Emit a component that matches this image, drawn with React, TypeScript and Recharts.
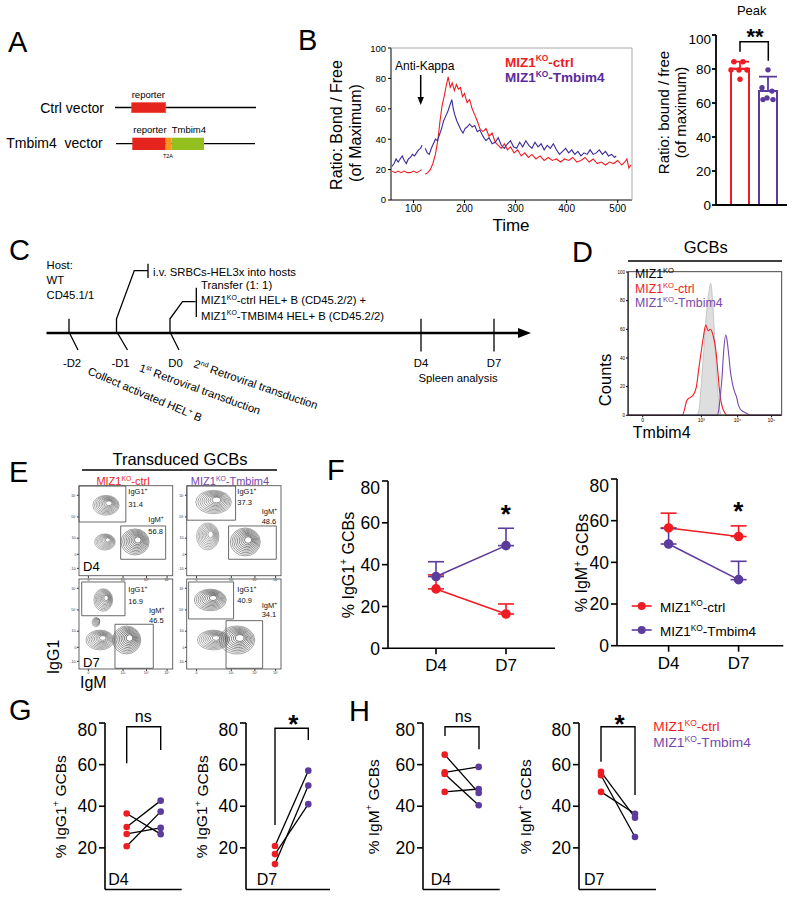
import React from 'react';
import {
  LineChart, Line, XAxis, YAxis, ComposedChart, Bar, Cell, ErrorBar, Scatter, ScatterChart, Area, ReferenceArea,
} from 'recharts';

const RED = '#ee1d23';
const PURPLE = '#5b3c9c';
const NAVY = '#3a2a9a';
const LPURPLE = '#7648ab';
const FONT = '"Liberation Sans", Arial, Helvetica, sans-serif';

// ---------- B: Ca-flux kinetics ----------
const kinCtrlTime = [58, 64, 70, 76, 82, 88, 94, 100, 106, 112, 116, 119,
  123, 128, 133, 138, 143, 148, 152, 156, 160, 164, 168, 172, 176, 180, 184, 188, 192, 196, 200, 205,
  210, 215, 220, 225, 230, 236, 242, 248, 254, 260, 266, 272, 278, 284, 290, 297, 304, 311, 318, 325,
  332, 340, 348, 356, 364, 372, 380, 388, 396, 404, 412, 420, 428, 436, 444, 452, 460, 468, 476, 484,
  492, 500, 508, 514, 518, 522, 526];
const kinCtrlRatio = [19, 18, 19, 18, 19, 18, 18, 19, 18, 19, 20, null,
  17, 18, 20, 24, 30, 40, 52, 62, 68, 75, 81, 74, 77, 72, 76, 73, 74, 68, 70, 64,
  66, 60, 56, 52, 47, 45, 47, 42, 44, 38, 36, 34, 37, 33, 35, 31, 33, 29, 31, 28,
  30, 27, 29, 26, 28, 26, 27, 25, 27, 26, 28, 25, 26, 28, 25, 27, 24, 25, 23, 25,
  24, 26, 23, 25, 27, 21, 23];
const kinTmbTime = [58, 62, 66, 70, 74, 78, 82, 86, 90, 94, 98, 102, 106, 110, 114, 117, 120,
  123, 127, 131, 135, 139, 143, 147, 151, 155, 159, 163, 167, 171, 175, 178, 181, 185, 189, 193, 197,
  201, 205, 210, 215, 220, 225, 230, 236, 242, 248, 254, 260, 266, 272, 278, 284, 290, 296, 302, 308,
  314, 320, 326, 332, 338, 344, 350, 356, 362, 368, 374, 380, 386, 392, 398, 404, 410, 416, 422, 428,
  434, 440, 446, 452, 458, 464, 470, 476, 482, 488, 494, 497];
const kinTmbRatio = [22, 24, 27, 25, 27, 29, 26, 24, 27, 28, 30, 29, 31, 33, 34, 36, null,
  34, 31, 30, 34, 37, 40, 39, 43, 47, 52, 55, 58, 62, 66, 60, 56, 52, 49, 46, 44,
  47, 48, 50, 48, 49, 45, 46, 42, 39, 41, 37, 38, 41, 36, 34, 37, 39, 35, 34, 38,
  35, 39, 36, 34, 38, 35, 37, 33, 36, 34, 37, 33, 30, 32, 34, 31, 33, 30, 32, 29,
  31, 30, 33, 30, 31, 33, 30, 32, 29, 30, 28, 29];
const timeTicks = [100, 200, 300, 400, 500];
const ratioTicks = [0, 20, 40, 60, 80, 100];

// ---------- B: peak ----------
const peakGroups = ['ctrl', 'Tmbim4'];
const peakMean = [80.1, 67.1];
const peakSD = [4.2, 8.4];
const peakCtrlDots = [79.4, 84.3, 79.4, 84.3, 79.4, 74];
const peakTmbDots = [79.5, 69, 67, 62, 62, 63];

// ---------- D: histogram ----------
const histTicks = [96, 478, 715, 935];
const histTickLabels = ['0', '10³', '10⁴', '10⁵'];
const countTicks = [0, 20, 40, 60, 80, 100];
const grayCh = [0, 440, 446, 463, 478, 494, 511, 526, 539, 550, 561, 572, 585, 598, 611, 620, 1000];
const grayCount = [0, 0, 0, 4, 22, 45, 70, 85, 92, 82, 62, 40, 18, 4, 0, 0, 0];
const ctrlCh = [0, 355, 368, 382, 398, 414, 430, 446, 462, 478, 492, 507, 522, 537, 554, 566, 576, 586, 596, 606, 617, 630, 645, 1000];
const ctrlCount = [0, 0, 4, 10, 12, 13, 15, 20, 33, 45, 55, 63, 59, 60, 56, 50, 42, 30, 18, 10, 5, 2, 0, 0];
const tmbCh = [0, 580, 592, 603, 612, 624, 637, 645, 652, 660, 667, 676, 685, 696, 707, 718, 728, 745, 761, 780, 795, 1000];
const tmbCount = [0, 0, 4, 15, 25, 45, 56, 53, 47, 39, 31, 25, 20, 16, 13, 8, 5, 3, 2, 1, 0, 0];

// ---------- E: flow contour plots (x, y, spreadX, spreadY, density) ----------
const eXTicks = [10, 47, 72, 94];
const eXLabels = ['0', '10³', '10⁴', '10⁵'];
const eYTicks = [8.5, 24.1, 42, 65.6, 89.7];
const eYLabels = ['-10³', '0', '10³', '10⁴', '10⁵'];
const eD4Ctrl = [[28.8, 78.6, 14, 11, 0.55], [27.7, 37.8, 11, 9, 0.3], [59.8, 37.8, 15, 14.5, 0.95]];
const eD4Tmb = [[28.2, 82.2, 19, 13, 0.65], [22, 44, 12, 15, 0.3], [61.8, 37.8, 16, 15.5, 0.95]];
const eD7Ctrl = [[25.9, 76.7, 10, 12.5, 0.5], [22.4, 32.2, 15, 11, 0.55], [50.9, 32.2, 15, 15.5, 1], [18, 52, 4, 5, 0.2]];
const eD7Tmb = [[24.7, 76.7, 17, 12, 0.85], [27.9, 32.2, 17, 11, 0.5], [53, 32.2, 19, 15.5, 0.95]];
// gates: [x1, x2, y1, y2]
const gD4Ctrl = [[0, 50, 60, 100], [44.5, 92.5, 18.6, 55.6]];
const gD4Tmb = [[0, 51.5, 62, 100], [44.1, 94.7, 18.6, 55.6]];
const gD7Ctrl = [[2.9, 49.1, 59.2, 96.7], [38.4, 79.3, 0.8, 49.7]];
const gD7Tmb = [[1.7, 49.4, 55.6, 96.7], [41.4, 80.2, 0.8, 53.7]];
const pctD4Ctrl = ['31.4', '56.8'];
const pctD4Tmb = ['37.3', '48.6'];
const pctD7Ctrl = ['16.9', '46.5'];
const pctD7Tmb = ['40.9', '34.1'];

// ---------- F ----------
const days = ['D4', 'D7'];
const igg1Ctrl = [28.4, 16.4];
const igg1CtrlSD = [6.7, 4.8];
const igg1Tmb = [34.3, 49.1];
const igg1TmbSD = [7.1, 8.3];
const igmCtrl = [56.5, 52.4];
const igmCtrlSD = [7.1, 5.1];
const igmTmb = [48.8, 31.7];
const igmTmbSD = [7.5, 8.8];
const pctTicks = [0, 20, 40, 60, 80];

// ---------- G / H paired ----------
const pairGroups = ['ctrl', 'Tmbim4'];
const gD4C = [36.5, 30.0, 26.7, 20.8];
const gD4T = [26.6, 42.7, 29.6, 37.4];
const gD7C = [20.9, 17.0, 12.2];
const gD7T = [57.1, 41.0, 50.0];
const hD4C = [64.8, 56.3, 55.5, 46.9];
const hD4T = [46.4, 58.9, 40.5, 48.3];
const hD7C = [56.5, 54.9, 46.9];
const hD7T = [34.5, 25.2, 36.4];

// ---------- helpers ----------
function frame(x0: number, y0: number, x1: number, y1: number, yw: number, xh: number) {
  const p = 4;
  return {
    style: { position: 'absolute', left: x0 - yw - p, top: y0 - p } as React.CSSProperties,
    width: x1 - x0 + yw + 2 * p,
    height: y1 - y0 + xh + 2 * p,
    margin: { top: p, right: p, bottom: p, left: p },
  };
}

const JR = [-9, -6, -1, 3, 7, 0];
const JP = [0, -6, 4, -5, 5, -1];
function jitterDot(color: string, offs: number[]) {
  return (p: any) => (p.cx == null ? <g /> :
    <circle cx={p.cx + offs[p.payload.k % offs.length]} cy={p.cy} r={2.7} fill={color} />);
}

const E_PX = 0.937;
const E_PY = 0.9;
function contourShape(props: any) {
  const { cx, cy, payload } = props;
  if (cx == null || cy == null) return <g />;
  const rx = payload.sx * E_PX;
  const ry = payload.sy * E_PY;
  const n = 9;
  const els: any[] = [];
  for (let i = 0; i < n; i++) {
    const f = 1 - i * 0.095;
    const t = i / (n - 1);
    const shade = Math.max(25, Math.round(150 - payload.d * 55 - payload.d * 75 * t));
    els.push(
      <ellipse key={i} cx={cx + i * 0.35} cy={cy - i * 0.25} rx={rx * f} ry={ry * f}
        fill="none" stroke={`rgb(${shade},${shade},${shade})`} strokeWidth={0.6} />,
    );
  }
  return <g>{els}</g>;
}

function pairDot(p: any) {
  if (p.cx == null) return <g key={`n${p.index}`} />;
  return <circle key={`d${p.index}`} cx={p.cx} cy={p.cy} r={3.3}
    fill={p.payload.g === 'ctrl' ? RED : PURPLE} stroke="none" />;
}

function Miz({ fs, suffix }: { fs: number; suffix: string }) {
  return (
    <>
      MIZ1<tspan fontSize={fs * 0.62} dy={-fs * 0.38}>KO</tspan><tspan dy={fs * 0.38}>{suffix}</tspan>
    </>
  );
}

function Rot({ x, y, fs, children, fill = '#000' }: any) {
  return (
    <text transform={`translate(${x},${y}) rotate(-90)`} textAnchor="middle" dominantBaseline="central"
      fontSize={fs} fill={fill}>{children}</text>
  );
}

const axisStyle = { stroke: '#000', strokeWidth: 1.6 };

function FlowPlot({ x0, y0, x1, y1, clusters, gates }: any) {
  const f = frame(x0, y0, x1, y1, 10, 8);
  const data = clusters.map((c: number[]) => ({ x: c[0], y: c[1], sx: c[2], sy: c[3], d: c[4] }));
  return (
    <div style={f.style}>
      <ScatterChart width={f.width} height={f.height} margin={f.margin}>
        <XAxis type="number" dataKey="x" domain={[0, 100]} ticks={eXTicks}
          tickFormatter={(v: any, i: number) => eXLabels[i]} axisLine={false}
          tick={{ fontSize: 3.5, fill: '#333' }} tickSize={2} tickMargin={0.5} height={8} stroke="#333" />
        <YAxis type="number" dataKey="y" domain={[0, 100]} ticks={eYTicks}
          tickFormatter={(v: any, i: number) => eYLabels[i]} axisLine={false}
          tick={{ fontSize: 3.5, fill: '#333' }} tickSize={2} tickMargin={0.5} width={10} stroke="#333" />
        <Scatter data={data} shape={contourShape} isAnimationActive={false} />
        {gates.map((g: number[], i: number) => (
          <ReferenceArea key={i} x1={g[0]} x2={g[1]} y1={g[2]} y2={g[3]} fill="none" fillOpacity={0}
            stroke="#444" strokeWidth={0.8} ifOverflow="visible" />
        ))}
      </ScatterChart>
    </div>
  );
}

function TimeChart({ x0, y0, x1, y1, padL, padR, ctrl, ctrlSD, tmb, tmbSD }: any) {
  const f = frame(x0, y0, x1, y1, 36, 30);
  const rows = days.map((d, i) => ({ day: d, r: ctrl[i], rE: [0, ctrlSD[i]], p: tmb[i], pE: [0, tmbSD[i]] }));
  return (
    <div style={f.style}>
      <LineChart width={f.width} height={f.height} margin={f.margin} data={rows}>
        <XAxis dataKey="day" type="category" scale="point" padding={{ left: padL, right: padR }}
          tick={{ fontSize: 17, fill: '#000' }} tickSize={6} tickMargin={5} height={30}
          axisLine={axisStyle} tickLine={axisStyle} />
        <YAxis type="number" domain={[0, 80]} ticks={pctTicks} width={36}
          tick={{ fontSize: 17.5, fill: '#000' }} tickSize={6} tickMargin={2}
          axisLine={axisStyle} tickLine={axisStyle} />
        <Line dataKey="r" stroke={RED} strokeWidth={1.6} dot={{ r: 4, fill: RED, stroke: RED }} isAnimationActive={false}>
          <ErrorBar dataKey="rE" width={8} stroke={RED} strokeWidth={1.6} direction="y" />
        </Line>
        <Line dataKey="p" stroke={PURPLE} strokeWidth={1.6} dot={{ r: 4, fill: PURPLE, stroke: PURPLE }} isAnimationActive={false}>
          <ErrorBar dataKey="pE" width={8} stroke={PURPLE} strokeWidth={1.6} direction="y" />
        </Line>
      </LineChart>
    </div>
  );
}

function PairChart({ x0, x1, ctrl, tmb, padL, padR }: any) {
  const f = frame(x0, 723, x1, 889.5, 36, 4);
  const rows = pairGroups.map((g, gi) => {
    const src = gi === 0 ? ctrl : tmb;
    const o: any = { g: gi === 0 ? 'ctrl' : 'Tmbim4' };
    src.forEach((v: number, i: number) => { o[`p${i}`] = v; });
    return o;
  });
  return (
    <div style={f.style}>
      <LineChart width={f.width} height={f.height} margin={f.margin} data={rows}>
        <XAxis dataKey="g" type="category" scale="point" padding={{ left: padL, right: padR }}
          tick={false} tickLine={false} height={4} axisLine={axisStyle} />
        <YAxis type="number" domain={[0, 80]} ticks={pctTicks} width={36}
          tick={{ fontSize: 17.5, fill: '#000' }} tickSize={6} tickMargin={2}
          axisLine={axisStyle} tickLine={axisStyle} />
        {ctrl.map((_: number, i: number) => (
          <Line key={i} dataKey={`p${i}`} stroke="#000" strokeWidth={1.3} dot={pairDot}
            activeDot={false} isAnimationActive={false} />
        ))}
      </LineChart>
    </div>
  );
}

export default function App() {
  const kinCtrl = kinCtrlTime.map((t, i) => ({ t, v: kinCtrlRatio[i] }));
  const kinTmb = kinTmbTime.map((t, i) => ({ t, v: kinTmbRatio[i] }));
  const fB = frame(391, 48, 632, 200, 28, 22);

  const peakRows = peakGroups.map((g, i) => ({
    g, m: peakMean[i],
    eR: i === 0 ? [0, peakSD[i]] : undefined,
    eP: i === 1 ? [0, peakSD[i]] : undefined,
  }));
  const peakCtrlPts = peakCtrlDots.map((v, k) => ({ g: peakGroups[0], v, k }));
  const peakTmbPts = peakTmbDots.map((v, k) => ({ g: peakGroups[1], v, k }));
  const fP = frame(716, 35, 787, 205, 32, 4);

  const grayData = grayCh.map((ch, i) => ({ ch, c: grayCount[i] }));
  const ctrlData = ctrlCh.map((ch, i) => ({ ch, c: ctrlCount[i] }));
  const tmbData = tmbCh.map((ch, i) => ({ ch, c: tmbCount[i] }));
  const fD = frame(628.3, 271.7, 781.7, 415, 14, 10);

  const gateTxt = (x: number, y1: number, y2: number, yM1: number, yM2: number, xm: number, pct: string[]) => (
    <g fontSize={7.5} fill="#111">
      <text x={x} y={y1}>IgG1<tspan fontSize={5} dy={-3}>+</tspan></text>
      <text x={x} y={y2}>{pct[0]}</text>
      <text x={xm} y={yM1}>IgM<tspan fontSize={5} dy={-3}>+</tspan></text>
      <text x={xm} y={yM2}>{pct[1]}</text>
    </g>
  );

  return (
    <div style={{ position: 'absolute', left: 0, top: 0, width: 800, height: 901, background: '#fff', fontFamily: FONT, overflow: 'hidden' }}>
      {/* B kinetics */}
      <div style={fB.style}>
        <LineChart width={fB.width} height={fB.height} margin={fB.margin}>
          <XAxis type="number" dataKey="t" domain={[56, 528]} ticks={timeTicks} allowDataOverflow
            tick={{ fontSize: 10, fill: '#000' }} tickSize={3} tickMargin={2} height={22} stroke="#000" />
          <YAxis type="number" domain={[0, 100]} ticks={ratioTicks} width={28}
            tick={{ fontSize: 9.5, fill: '#000' }} tickSize={3} tickMargin={2} stroke="#000" />
          <Line data={kinCtrl} dataKey="v" type="linear" stroke={RED} strokeWidth={1.1} dot={false} activeDot={false} isAnimationActive={false} />
          <Line data={kinTmb} dataKey="v" type="linear" stroke={NAVY} strokeWidth={1.1} dot={false} activeDot={false} isAnimationActive={false} />
        </LineChart>
      </div>

      {/* B peak bars */}
      <div style={fP.style}>
        <ComposedChart width={fP.width} height={fP.height} margin={fP.margin} data={peakRows}>
          <XAxis dataKey="g" type="category" allowDuplicatedCategory={false} padding={{ left: 10, right: 5 }}
            tick={false} tickLine={false} height={4} axisLine={{ stroke: '#000', strokeWidth: 1.8 }} />
          <YAxis type="number" domain={[0, 100]} ticks={ratioTicks} width={32}
            tick={{ fontSize: 13.5, fill: '#000' }} tickSize={4} tickMargin={1}
            axisLine={{ stroke: '#000', strokeWidth: 1.8 }} tickLine={{ stroke: '#000', strokeWidth: 1.8 }} />
          <Bar dataKey="m" barSize={18} strokeWidth={2} fill="#fff" isAnimationActive={false}>
            {peakRows.map((r, i) => <Cell key={i} fill="#fff" stroke={i === 0 ? RED : PURPLE} />)}
            <ErrorBar dataKey="eR" width={9} stroke={RED} strokeWidth={1.8} direction="y" />
            <ErrorBar dataKey="eP" width={9} stroke={PURPLE} strokeWidth={1.8} direction="y" />
          </Bar>
          <Scatter data={peakCtrlPts} dataKey="v" shape={jitterDot(RED, JR)} isAnimationActive={false} />
          <Scatter data={peakTmbPts} dataKey="v" shape={jitterDot(PURPLE, JP)} isAnimationActive={false} />
        </ComposedChart>
      </div>

      {/* D histogram */}
      <div style={fD.style}>
        <ComposedChart width={fD.width} height={fD.height} margin={fD.margin}>
          <XAxis type="number" dataKey="ch" domain={[0, 1000]} ticks={histTicks}
            tickFormatter={(v: any, i: number) => histTickLabels[i]}
            tick={{ fontSize: 5, fill: '#000' }} tickSize={2} tickMargin={1} height={10} stroke="#000" />
          <YAxis type="number" domain={[0, 100]} ticks={countTicks}
            tick={{ fontSize: 4.5, fill: '#000' }} tickSize={2} tickMargin={1} width={14} stroke="#000" />
          <Area data={grayData} dataKey="c" type="monotone" fill="#dedede" fillOpacity={1} stroke="#c6c6c6" strokeWidth={1} isAnimationActive={false} />
          <Line data={ctrlData} dataKey="c" type="monotone" stroke={RED} strokeWidth={1.1} dot={false} activeDot={false} isAnimationActive={false} />
          <Line data={tmbData} dataKey="c" type="monotone" stroke={LPURPLE} strokeWidth={1.1} dot={false} activeDot={false} isAnimationActive={false} />
        </ComposedChart>
      </div>

      {/* E flow plots */}
      <FlowPlot x0={79} y0={485.7} x1={172.7} y1={575.7} clusters={eD4Ctrl} gates={gD4Ctrl} />
      <FlowPlot x0={186.7} y0={485.7} x1={281} y1={575.7} clusters={eD4Tmb} gates={gD4Tmb} />
      <FlowPlot x0={79} y0={579} x1={172.7} y1={669} clusters={eD7Ctrl} gates={gD7Ctrl} />
      <FlowPlot x0={186.7} y0={579} x1={281} y1={669} clusters={eD7Tmb} gates={gD7Tmb} />

      {/* F */}
      <TimeChart x0={388} y0={481} x1={555} y1={648.3} padL={48} padR={49}
        ctrl={igg1Ctrl} ctrlSD={igg1CtrlSD} tmb={igg1Tmb} tmbSD={igg1TmbSD} />
      <TimeChart x0={616.7} y0={479.3} x1={783} y1={646} padL={51.6} padR={44.7}
        ctrl={igmCtrl} ctrlSD={igmCtrlSD} tmb={igmTmb} tmbSD={igmTmbSD} />

      {/* G / H */}
      <PairChart x0={105} x1={181.7} ctrl={gD4C} tmb={gD4T} padL={21.7} padR={21} />
      <PairChart x0={246} x1={330} ctrl={gD7C} tmb={gD7T} padL={29} padR={21.7} />
      <PairChart x0={423.3} x1={500} ctrl={hD4C} tmb={hD4T} padL={21.7} padR={21} />
      <PairChart x0={579} x1={656} ctrl={hD7C} tmb={hD7T} padL={22} padR={21} />

      {/* annotations */}
      <svg width={800} height={901} style={{ position: 'absolute', left: 0, top: 0, pointerEvents: 'none', fontFamily: FONT }}>
        {/* panel letters */}
        <g fontSize={29} fill="#000">
          <text x={8} y={51.5}>A</text>
          <text x={298} y={50}>B</text>
          <text x={9} y={260}>C</text>
          <text x={572} y={261.5}>D</text>
          <text x={9} y={481.5}>E</text>
          <text x={327} y={480}>F</text>
          <text x={9} y={720}>G</text>
          <text x={349} y={721}>H</text>
        </g>

        {/* A schematic */}
        <text x={104} y={113} fontSize={14} textAnchor="end">Ctrl vector</text>
        <line x1={115} y1={107.5} x2={256} y2={107.5} stroke="#000" strokeWidth={1.3} />
        <rect x={131.7} y={102.7} width={34} height={10} fill="#e5251d" stroke="#f04a3c" strokeWidth={0.7} />
        <text x={131.7} y={98} fontSize={9.5}>reporter</text>
        <text x={102.7} y={148.3} fontSize={14} textAnchor="end">Tmbim4{'\u00a0 '}vector</text>
        <line x1={116} y1={143.7} x2={255} y2={143.7} stroke="#000" strokeWidth={1.3} />
        <rect x={132.3} y={137.7} width={33.4} height={12.3} fill="#e5251d" />
        <rect x={165.7} y={137.7} width={6} height={12.3} fill="#f7931e" />
        <rect x={171.7} y={137.7} width={32.3} height={12.3} fill="#93c01f" />
        <text x={133.3} y={133} fontSize={9.5}>reporter{'\u00a0 '}Tmbim4</text>
        <text x={168} y={158} fontSize={5.5} textAnchor="middle">T2A</text>

        {/* B kinetics annotations */}
        <line x1={391} y1={48} x2={632} y2={48} stroke="#a8a8a8" strokeWidth={1} />
        <line x1={632} y1={48} x2={632} y2={200} stroke="#a8a8a8" strokeWidth={1} />
        <text x={395} y={70} fontSize={12}>Anti-Kappa</text>
        <line x1={420.7} y1={75} x2={420.7} y2={99} stroke="#000" strokeWidth={1.5} />
        <polygon points="420.7,105 417.5,97 423.9,97" fill="#000" />
        <text x={505} y={66.5} fontSize={13.5} fontWeight="bold" fill={RED}><Miz fs={13.5} suffix="-ctrl" /></text>
        <text x={505} y={82} fontSize={13.5} fontWeight="bold" fill="#5a2a9c"><Miz fs={13.5} suffix="-Tmbim4" /></text>
        <Rot x={336.7} y={125} fs={16}>Ratio: Bond / Free</Rot>
        <Rot x={355} y={133} fs={16}>(of Maximum)</Rot>
        <text x={511} y={231} fontSize={17} textAnchor="middle">Time</text>

        {/* B peak annotations */}
        <text x={751.7} y={15} fontSize={13} textAnchor="middle">Peak</text>
        <text x={755} y={43.5} fontSize={22} fontWeight="bold" textAnchor="middle">**</text>
        <polyline points="740,51.7 740,41.7 768.3,41.7 768.3,60.7" fill="none" stroke="#000" strokeWidth={1.5} />
        <Rot x={663.3} y={112.5} fs={15}>Ratio: bound / free</Rot>
        <Rot x={680} y={112.5} fs={15}>(of maximum)</Rot>

        {/* C timeline */}
        <g fontSize={11.3} fill="#000">
          <text x={46.5} y={268.5}>Host:</text>
          <text x={46.5} y={283.5}>WT</text>
          <text x={46.5} y={298.5}>CD45.1/1</text>
          <text x={153} y={275.5}>i.v. SRBCs-HEL3x into hosts</text>
          <text x={201} y={288.5}>Transfer (1: 1)</text>
          <text x={201} y={304}><Miz fs={11.3} suffix="-ctrl HEL+ B (CD45.2/2) +" /></text>
          <text x={201} y={319.5}><Miz fs={11.3} suffix="-TMBIM4 HEL+ B (CD45.2/2)" /></text>
          <text x={72} y={366.5} textAnchor="middle">-D2</text>
          <text x={120.5} y={366.5} textAnchor="middle">-D1</text>
          <text x={175.6} y={366.5} textAnchor="middle">D0</text>
          <text x={421} y={366.5} textAnchor="middle">D4</text>
          <text x={494} y={366.5} textAnchor="middle">D7</text>
          <text x={458} y={382} textAnchor="middle">Spleen analysis</text>
          <text transform="translate(87,374) rotate(23)">Collect activated HEL<tspan fontSize={7} dy={-4}>+</tspan><tspan dy={4}> B</tspan></text>
          <text transform="translate(138.5,371) rotate(20)">1<tspan fontSize={7} dy={-4}>st</tspan><tspan dy={4}> Retroviral transduction</tspan></text>
          <text transform="translate(193,367) rotate(19)">2<tspan fontSize={7} dy={-4}>nd</tspan><tspan dy={4}> Retroviral transduction</tspan></text>
        </g>
        <g stroke="#000" strokeWidth={1.3} fill="none">
          <line x1={46.5} y1={333} x2={522} y2={333} strokeWidth={2.6} />
          <line x1={69} y1={318.8} x2={69} y2={333} />
          <line x1={69.5} y1={333} x2={78} y2={350} />
          <polyline points="116.5,333 116.5,318.8 134.3,270.6 148,270.6" />
          <line x1={148} y1={263.7} x2={148} y2={278} />
          <line x1={117.5} y1={333} x2={127.5} y2={350} />
          <polyline points="170,333 170,318.8 182.5,301.6 195.6,301.6" />
          <line x1={196.3} y1={287.8} x2={196.3} y2={317} />
          <line x1={170.5} y1={333} x2={179} y2={350} />
          <line x1={421} y1={318.8} x2={421} y2={351.5} />
          <line x1={494} y1={318.8} x2={494} y2={351.5} />
        </g>
        <polygon points="531,333 518,328 518,338" fill="#000" />

        {/* D annotations */}
        <text x={705.7} y={253.3} fontSize={16.5} textAnchor="middle">GCBs</text>
        <line x1={628} y1={261} x2={782} y2={261} stroke="#000" strokeWidth={1.5} />
        <rect x={628.3} y={271.7} width={153.4} height={143.3} fill="none" stroke="#333" strokeWidth={0.9} />
        <text x={635} y={278} fontSize={12.3} fill="#000">MIZ1<tspan fontSize={7.6} dy={-4.7}>KO</tspan></text>
        <text x={635} y={293} fontSize={12.3} fill={RED}><Miz fs={12.3} suffix="-ctrl" /></text>
        <text x={635} y={306.5} fontSize={12.3} fill={LPURPLE}><Miz fs={12.3} suffix="-Tmbim4" /></text>
        <Rot x={605} y={380} fs={16.5}>Counts</Rot>
        <text x={661.7} y={438.3} fontSize={16} textAnchor="middle">Tmbim4</text>

        {/* E annotations */}
        <text x={180} y={465} fontSize={16.5} textAnchor="middle">Transduced GCBs</text>
        <line x1={82} y1={470} x2={277} y2={470} stroke="#000" strokeWidth={1.5} />
        <text x={123} y={485} fontSize={11} textAnchor="middle" fill={RED}><Miz fs={11} suffix="-ctrl" /></text>
        <text x={230} y={485} fontSize={11} textAnchor="middle" fill={LPURPLE}><Miz fs={11} suffix="-Tmbim4" /></text>
        <g fill="none" stroke="#555" strokeWidth={0.9}>
          <rect x={79} y={485.7} width={93.7} height={90} />
          <rect x={186.7} y={485.7} width={94.3} height={90} />
          <rect x={79} y={579} width={93.7} height={90} />
          <rect x={186.7} y={579} width={94.3} height={90} />
        </g>
        {gateTxt(128.3, 494, 506.5, 521.5, 534, 148.3, pctD4Ctrl)}
        {gateTxt(237.3, 494, 505, 514, 524, 261.7, pctD4Tmb)}
        {gateTxt(128.3, 591.5, 604, 613, 623.3, 149, pctD7Ctrl)}
        {gateTxt(237.3, 591.5, 603.3, 608.3, 616.7, 261.7, pctD7Tmb)}
        <text x={83} y={570.7} fontSize={13}>D4</text>
        <text x={83} y={666.5} fontSize={13}>D7</text>
        <Rot x={53.3} y={657} fs={16}>IgG1</Rot>
        <text x={93.3} y={687.5} fontSize={16} textAnchor="middle">IgM</text>

        {/* F annotations */}
        <Rot x={348.3} y={565} fs={16}>% IgG1<tspan fontSize={10} dy={-5}>+</tspan><tspan dy={5}> GCBs</tspan></Rot>
        <Rot x={581.7} y={563} fs={16}>% IgM<tspan fontSize={10} dy={-5}>+</tspan><tspan dy={5}> GCBs</tspan></Rot>
        <text x={505.7} y={523} fontSize={26} fontWeight="bold" textAnchor="middle">*</text>
        <text x={738.3} y={520} fontSize={26} fontWeight="bold" textAnchor="middle">*</text>
        <line x1={631.7} y1={606} x2={651.7} y2={606} stroke={RED} strokeWidth={1.6} />
        <circle cx={641.7} cy={606} r={4} fill={RED} />
        <line x1={631.7} y1={630} x2={651.7} y2={630} stroke={PURPLE} strokeWidth={1.6} />
        <circle cx={641.7} cy={630} r={4} fill={PURPLE} />
        <text x={660} y={611.5} fontSize={13.5}><Miz fs={13.5} suffix="-ctrl" /></text>
        <text x={660} y={635.7} fontSize={13.5}><Miz fs={13.5} suffix="-Tmbim4" /></text>

        {/* G / H annotations */}
        <Rot x={60} y={806.7} fs={15.5}>% IgG1<tspan fontSize={9.5} dy={-5}>+</tspan><tspan dy={5}> GCBs</tspan></Rot>
        <Rot x={201.7} y={806.7} fs={15.5}>% IgG1<tspan fontSize={9.5} dy={-5}>+</tspan><tspan dy={5}> GCBs</tspan></Rot>
        <Rot x={373.3} y={806.7} fs={15.5}>% IgM<tspan fontSize={9.5} dy={-5}>+</tspan><tspan dy={5}> GCBs</tspan></Rot>
        <Rot x={525} y={806.7} fs={15.5}>% IgM<tspan fontSize={9.5} dy={-5}>+</tspan><tspan dy={5}> GCBs</tspan></Rot>
        <g fill="none" stroke="#000" strokeWidth={1.4}>
          <polyline points="126.7,763.3 126.7,726.7 160.7,726.7 160.7,750" />
          <polyline points="275,825 275,728.3 308.3,728.3 308.3,740" />
          <polyline points="445,736 445,726.7 479,726.7 479,749.3" />
          <polyline points="601,761.7 601,726.7 635,726.7 635,795" />
        </g>
        <text x={143.3} y={721.5} fontSize={16} textAnchor="middle">ns</text>
        <text x={463.3} y={721.5} fontSize={16} textAnchor="middle">ns</text>
        <text x={293.3} y={733} fontSize={26} fontWeight="bold" textAnchor="middle">*</text>
        <text x={619.5} y={733} fontSize={26} fontWeight="bold" textAnchor="middle">*</text>
        <text x={108.3} y={885} fontSize={16}>D4</text>
        <text x={256.7} y={885} fontSize={16}>D7</text>
        <text x={430.7} y={885} fontSize={16}>D4</text>
        <text x={584} y={885} fontSize={16}>D7</text>
        <text x={653.3} y={731} fontSize={13.7} fill={RED}><Miz fs={13.7} suffix="-ctrl" /></text>
        <text x={653.3} y={747} fontSize={13.7} fill={LPURPLE}><Miz fs={13.7} suffix="-Tmbim4" /></text>
      </svg>
    </div>
  );
}
